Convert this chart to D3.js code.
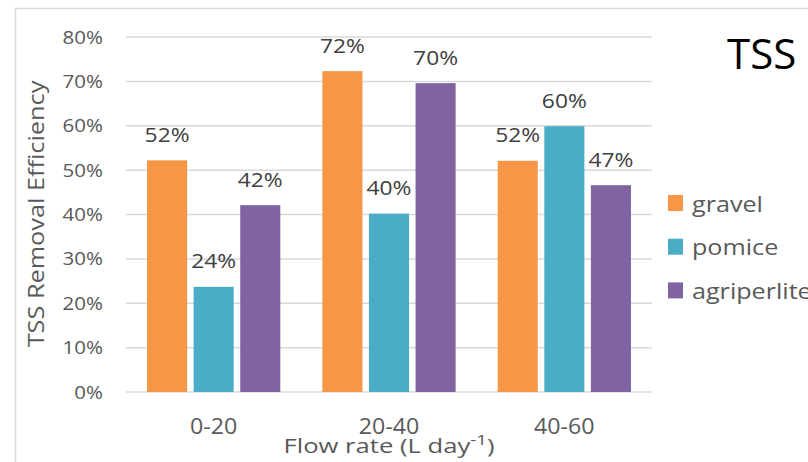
<!DOCTYPE html>
<html><head><meta charset="utf-8">
<script src="https://cdn.jsdelivr.net/npm/d3@7"></script>
<style>body{margin:0;background:#fff;}svg{display:block;}text{font-family:"Open Sans",sans-serif;}</style>
</head><body>
<svg id="c" width="808" height="462"></svg>
<script>
const categories = ["0-20", "20-40", "40-60"];
const seriesNames = ["gravel", "pomice", "agriperlite"];
const gravel = [0.522, 0.723, 0.521];
const pomice = [0.237, 0.402, 0.599];
const agriperlite = [0.421, 0.696, 0.466];
const yTicks = [0, 0.1, 0.2, 0.3, 0.4, 0.5, 0.6, 0.7, 0.8];
const colors = ["#F79646", "#4BACC6", "#8064A2"];
const seriesValues = [gravel, pomice, agriperlite];

const svg = d3.select("#c");
const gray = "#595959";
const pct = d3.format(".0%");

// outer frame
svg.append("rect").attr("x", 15.5).attr("y", 8.5).attr("width", 900).attr("height", 900)
  .attr("fill", "none").attr("stroke", "#d9d9d9").attr("stroke-width", 1.5);

const x0 = d3.scaleBand().domain(categories).range([126, 652]).paddingInner(0.24).paddingOuter(0.12);
const x1 = d3.scaleBand().domain(seriesNames).range([0, x0.bandwidth()]).paddingInner(0.14);
const y = d3.scaleLinear().domain([0, 0.8]).range([392, 37]);

// gridlines
svg.append("g").selectAll("line").data(yTicks).join("line")
  .attr("x1", 126).attr("x2", 652)
  .attr("y1", d => y(d)).attr("y2", d => y(d))
  .attr("stroke", "#d9d9d9").attr("stroke-width", 1.5);

// y tick labels
svg.append("g").selectAll("text").data(yTicks).join("text")
  .attr("transform", d => `translate(103,${y(d) + 6.5}) scale(1.14,1)`)
  .attr("text-anchor", "end").attr("fill", gray).attr("font-size", 18)
  .text(d => pct(d));

// bars
const data = [];
categories.forEach((c, i) => seriesNames.forEach((s, j) => data.push({c, s, v: seriesValues[j][i], color: colors[j]})));
svg.append("g").selectAll("rect").data(data).join("rect")
  .attr("x", d => x0(d.c) + x1(d.s)).attr("width", x1.bandwidth())
  .attr("y", d => y(d.v)).attr("height", d => y(0) - y(d.v))
  .attr("fill", d => d.color);

// data labels
svg.append("g").selectAll("text").data(data).join("text")
  .attr("transform", d => `translate(${x0(d.c) + x1(d.s) + x1.bandwidth() / 2},${y(d.v) - 18.5}) scale(1.17,1)`)
  .attr("text-anchor", "middle").attr("fill", "#404040").attr("font-size", 19.5)
  .text(d => pct(d.v));

// x tick labels
svg.append("g").selectAll("text").data(categories).join("text")
  .attr("transform", d => `translate(${x0(d) + x0.bandwidth() / 2},434) scale(1.08,1)`)
  .attr("text-anchor", "middle").attr("fill", gray).attr("font-size", 21.5)
  .text(d => d);

// x title
const xt = svg.append("text").attr("transform", "translate(389,453) scale(1.25,1)").attr("text-anchor", "middle")
  .attr("fill", gray).attr("font-size", 20.5);
xt.append("tspan").text("Flow rate (L day");
xt.append("tspan").attr("font-size", 15).attr("dy", -8).text("-1");
xt.append("tspan").attr("dy", 8).text(")");

// y title
svg.append("text").attr("transform", "translate(44,214) rotate(-90) scale(1.15,1)")
  .attr("text-anchor", "middle").attr("fill", gray).attr("font-size", 22)
  .text("TSS Removal Efficiency");

// chart title
svg.append("text").attr("x", 727).attr("y", 69).attr("fill", "#000").attr("font-size", 42).text("TSS");

// legend
const lg = svg.append("g").selectAll("g").data(seriesNames).join("g")
  .attr("transform", (d, i) => `translate(668,${195 + i * 43.7})`);
lg.append("rect").attr("width", 15).attr("height", 16).attr("fill", (d, i) => colors[i]);
lg.append("text").attr("transform", "translate(24,16.5) scale(1.17,1)").attr("fill", gray).attr("font-size", 21.5).text(d => d);
</script>
</body></html>
